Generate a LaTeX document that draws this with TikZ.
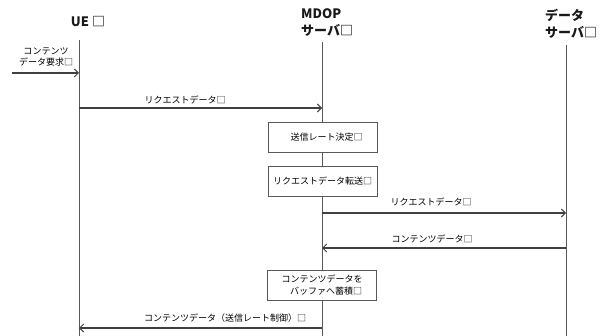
\documentclass[tikz,border=0pt]{standalone}
\usepackage{fontspec}
\setmainfont{Noto Sans CJK JP}
\usetikzlibrary{arrows.meta}
\begin{document}
\begin{tikzpicture}[x=1pt,y=-1pt,
  life/.style={draw=black!65, line width=0.8pt},
  msg/.style={draw=black!75, line width=1.1pt, -{Straight Barb[length=4pt,width=8pt,line width=1pt]}},
  lbl/.style={font=\fontsize{9}{11}\selectfont, inner sep=1pt, text=black},
  head/.style={font=\fontsize{13}{17}\selectfont\bfseries, align=left, inner sep=0pt, text=black!90},
  act/.style={draw=black!65, fill=white, line width=0.7pt, minimum width=109pt, minimum height=30pt, inner sep=1pt, font=\fontsize{9}{12}\selectfont, align=center, text=black}]
\useasboundingbox (0,0) rectangle (609,336);
% headers
\node[head] (ue) at (88,22) {UE □};
\node[head, anchor=west] (mdop) at (301,23) {MDOP\\サーバ□};
\node[head, anchor=west] (ds) at (545,24) {データ\\サーバ□};
% lifelines
\coordinate (ueT) at (79,40);   \coordinate (ueB) at (79,336);
\coordinate (mdT) at (322,42);  \coordinate (mdB) at (322,336);
\coordinate (dsT) at (566,45);  \coordinate (dsB) at (566,336);
\draw[life] (ueT) -- (ueB);
\draw[life] (mdT) -- (mdB);
\draw[life] (dsT) -- (dsB);
% activity boxes
\node[act] (a1) at (322.5,137) {\hspace{8pt}送信レート決定□};
\node[act] (a2) at (322.5,181) {リクエストデータ転送□};
\node[act] (a3) at (322,285) {コンテンツデータを\\\hspace{8pt}バッファへ蓄積□};
% messages
\coordinate (in0) at (12,73); \coordinate (in1) at (79,73);
\draw[msg] (in0) -- (in1);
\node[lbl, align=center] (l0) at (46,57) {コンテンツ\\データ要求□};
\coordinate (m1a) at (79,108); \coordinate (m1b) at (322,108);
\draw[msg] (m1a) -- (m1b);
\node[lbl] (l1) at (185,100) {リクエストデータ□};
\coordinate (m2a) at (322,213); \coordinate (m2b) at (566,213);
\draw[msg] (m2a) -- (m2b);
\node[lbl] (l2) at (431,202) {リクエストデータ□};
\coordinate (m3a) at (566,248); \coordinate (m3b) at (322,248);
\draw[msg] (m3a) -- (m3b);
\node[lbl] (l3) at (432,239) {コンテンツデータ□};
\coordinate (m4a) at (322,328); \coordinate (m4b) at (79,328);
\draw[msg] (m4a) -- (m4b);
\node[lbl] (l4) at (225,318) {コンテンツデータ（送信レート制御）□};
\end{tikzpicture}
\end{document}
